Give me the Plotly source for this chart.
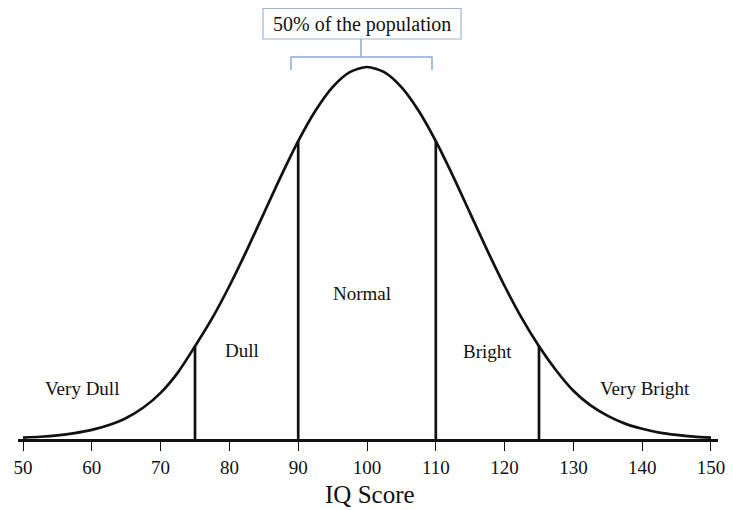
import plotly.graph_objects as go

# ---- data ----
iq = [50, 52.5, 55, 57.5, 60, 62.5, 65, 67.5, 70, 72.5, 75, 77.5, 80, 82.5, 85, 87.5, 90, 92.5, 95, 97.5,
      100, 102.5, 105, 107.5, 110, 112.5, 115, 117.5, 120, 122.5, 125, 127.5, 130, 132.5, 135, 137.5, 140,
      142.5, 145, 147.5, 150]
density_pct = [0.01, 0.016, 0.026, 0.042, 0.065, 0.10, 0.15, 0.225, 0.33, 0.475, 0.663, 0.864, 1.094, 1.347,
               1.613, 1.880, 2.130, 2.347, 2.516, 2.623, 2.660, 2.623, 2.516, 2.347, 2.130, 1.880, 1.613,
               1.347, 1.094, 0.864, 0.663, 0.49, 0.345, 0.24, 0.165, 0.11, 0.073, 0.046, 0.029, 0.017, 0.01]
cut_points = [75, 90, 110, 125]
region_labels = ["Very Dull", "Dull", "Normal", "Bright", "Very Bright"]
tick_vals = [50, 60, 70, 80, 90, 100, 110, 120, 130, 140, 150]
bracket_text = "50% of the population"
axis_title = "IQ Score"

# ---- layout geometry (page pixels; the page body adds an 8px offset) ----
OFF = 8
W, H = 733 - OFF, 510 - OFF
L, R, T, B = 10, 15, 0, 71
PW, PH = W - L - R, H - T - B
X0, X1 = 49.27, 151.02
YMAX = 2.66 * PH / 372.0

def px(p):
    return (p - OFF - L) / PW

def py(p):
    return (T + PH - (p - OFF)) / PH

SERIF = "Liberation Serif, Times New Roman, serif"
INK = "#111111"

fig = go.Figure()

fig.add_trace(go.Scatter(
    x=iq, y=density_pct, mode="lines",
    line=dict(color=INK, width=2.7, shape="spline", smoothing=0.8),
    hoverinfo="skip", showlegend=False))

vx, vy = [], []
for c in cut_points:
    h = density_pct[iq.index(c)]
    vx += [c, c, None]
    vy += [0, h, None]
fig.add_trace(go.Scatter(
    x=vx, y=vy, mode="lines",
    line=dict(color=INK, width=2.7),
    hoverinfo="skip", showlegend=False))

# region labels
label_pos = [(82, 388), (242, 350), (362, 293), (488, 351), (645, 388)]
for txt, (lx, ly) in zip(region_labels, label_pos):
    fig.add_annotation(x=px(lx), y=py(ly), xref="paper", yref="paper",
                       text=txt, showarrow=False,
                       font=dict(family=SERIF, size=19, color=INK),
                       xanchor="center", yanchor="middle")

# box with text
box_col = "#9CB5D6"
fig.add_shape(type="rect", xref="paper", yref="paper",
              x0=px(263), x1=px(461), y0=py(8.5), y1=py(39),
              line=dict(color=box_col, width=1.2), fillcolor="white")
fig.add_annotation(x=px(362), y=py(24), xref="paper", yref="paper",
                   text=bracket_text, showarrow=False,
                   font=dict(family=SERIF, size=20, color=INK),
                   xanchor="center", yanchor="middle")

br_col = "#8EAAD6"
fig.add_shape(type="path", xref="paper", yref="paper",
              path=f"M {px(291)} {py(70)} L {px(291)} {py(57)} L {px(432)} {py(57)} L {px(432)} {py(70)}",
              line=dict(color=br_col, width=1.5))
fig.add_shape(type="line", xref="paper", yref="paper",
              x0=px(361), x1=px(361), y0=py(39), y1=py(57),
              line=dict(color=br_col, width=1.5))

# axis title
fig.add_annotation(x=px(370), y=py(495), xref="paper", yref="paper",
                   text=axis_title, showarrow=False,
                   font=dict(family=SERIF, size=25, color=INK),
                   xanchor="center", yanchor="middle")

fig.update_xaxes(range=[X0, X1], tickvals=tick_vals, ticks="outside",
                 ticklen=9, tickwidth=1.3, tickcolor=INK,
                 showline=True, linecolor=INK, linewidth=2.5,
                 showgrid=False, zeroline=False,
                 tickfont=dict(family=SERIF, size=19, color=INK))
fig.update_yaxes(range=[0, YMAX], visible=False, showgrid=False, zeroline=False)

fig.update_layout(width=W, height=H, margin=dict(l=L, r=R, t=T, b=B),
                  plot_bgcolor="white", paper_bgcolor="white",
                  showlegend=False)

fig.write_html("out.html")
